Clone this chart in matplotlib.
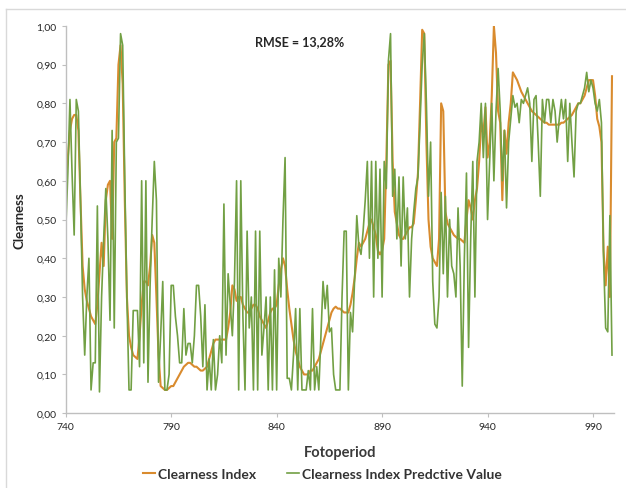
import matplotlib
matplotlib.use("Agg")
import matplotlib.pyplot as plt
from matplotlib.lines import Line2D
from matplotlib.ticker import FuncFormatter, FixedLocator, MultipleLocator
import numpy as np

plt.rcParams["font.family"] = ["Lato", "DejaVu Sans"]

# Fotoperiod 740..999, one value per step
fotoperiod = np.arange(740, 1000)
x_ticks = [740, 790, 840, 890, 940, 990]

clearness_index = [
    0.60, 0.66, 0.73, 0.76, 0.77, 0.77, 0.73, 0.55, 0.38, 0.32,
    0.29, 0.27, 0.25, 0.24, 0.23, 0.28, 0.36, 0.44, 0.38, 0.55,
    0.59, 0.60, 0.45, 0.70, 0.71, 0.90, 0.95, 0.85, 0.55, 0.30,
    0.20, 0.17, 0.15, 0.145, 0.14, 0.20, 0.28, 0.34, 0.34, 0.33,
    0.38, 0.46, 0.44, 0.30, 0.15, 0.07, 0.065, 0.06, 0.06, 0.065,
    0.07, 0.07, 0.08, 0.09, 0.10, 0.11, 0.12, 0.125, 0.13, 0.13,
    0.125, 0.12, 0.12, 0.115, 0.11, 0.11, 0.115, 0.12, 0.14, 0.16,
    0.18, 0.19, 0.19, 0.19, 0.19, 0.19, 0.19, 0.22, 0.26, 0.33,
    0.32, 0.29, 0.30, 0.30, 0.28, 0.27, 0.26, 0.26, 0.27, 0.28,
    0.28, 0.27, 0.25, 0.24, 0.23, 0.22, 0.24, 0.26, 0.27, 0.27,
    0.28, 0.33, 0.37, 0.40, 0.38, 0.32, 0.27, 0.23, 0.19, 0.16,
    0.14, 0.12, 0.11, 0.10, 0.10, 0.10, 0.11, 0.11, 0.12, 0.13,
    0.14, 0.16, 0.18, 0.20, 0.22, 0.24, 0.26, 0.27, 0.275, 0.27,
    0.27, 0.265, 0.26, 0.26, 0.26, 0.28, 0.31, 0.35, 0.40, 0.44,
    0.43, 0.44, 0.45, 0.47, 0.49, 0.50, 0.48, 0.46, 0.42, 0.41,
    0.42, 0.45, 0.65, 0.90, 0.91, 0.65, 0.52, 0.49, 0.46, 0.45,
    0.45, 0.46, 0.47, 0.48, 0.48, 0.49, 0.55, 0.62, 0.80, 0.99,
    0.98, 0.70, 0.50, 0.43, 0.40, 0.39, 0.38, 0.45, 0.80, 0.78,
    0.52, 0.49, 0.48, 0.47, 0.46, 0.455, 0.45, 0.45, 0.445, 0.44,
    0.50, 0.55, 0.53, 0.50, 0.55, 0.58, 0.65, 0.75, 0.72, 0.79,
    0.66, 0.70, 0.82, 1.00, 0.93, 0.78, 0.75, 0.55, 0.73, 0.67,
    0.75, 0.80, 0.88, 0.87, 0.86, 0.845, 0.83, 0.82, 0.81, 0.80,
    0.79, 0.78, 0.775, 0.77, 0.765, 0.76, 0.755, 0.75, 0.75, 0.745,
    0.745, 0.745, 0.745, 0.745, 0.745, 0.75, 0.75, 0.755, 0.76, 0.765,
    0.77, 0.78, 0.79, 0.80, 0.80, 0.81, 0.82, 0.84, 0.86, 0.86,
    0.86, 0.82, 0.76, 0.74, 0.70, 0.42, 0.33, 0.43, 0.30, 0.87,
]

predicted_value = [
    0.47, 0.62, 0.81, 0.62, 0.46, 0.81, 0.78, 0.55, 0.30, 0.15,
    0.30, 0.40, 0.06, 0.13, 0.13, 0.535, 0.055, 0.30, 0.45, 0.58,
    0.45, 0.24, 0.73, 0.22, 0.70, 0.71, 0.98, 0.95, 0.60, 0.30,
    0.06, 0.06, 0.265, 0.265, 0.265, 0.12, 0.60, 0.13, 0.60, 0.08,
    0.33, 0.50, 0.65, 0.55, 0.08, 0.20, 0.34, 0.06, 0.06, 0.10,
    0.33, 0.33, 0.25, 0.20, 0.13, 0.13, 0.27, 0.15, 0.18, 0.18,
    0.13, 0.20, 0.33, 0.33, 0.25, 0.12, 0.28, 0.06, 0.14, 0.06,
    0.19, 0.06, 0.10, 0.20, 0.13, 0.54, 0.15, 0.36, 0.28, 0.20,
    0.34, 0.60, 0.06, 0.60, 0.25, 0.06, 0.47, 0.22, 0.30, 0.06,
    0.47, 0.06, 0.47, 0.15, 0.22, 0.30, 0.06, 0.30, 0.06, 0.37,
    0.06, 0.40, 0.30, 0.50, 0.66, 0.09, 0.09, 0.06, 0.15, 0.27,
    0.06, 0.27, 0.06, 0.06, 0.06, 0.11, 0.06, 0.27, 0.06, 0.12,
    0.06, 0.20, 0.34, 0.27, 0.33, 0.21, 0.22, 0.10, 0.06, 0.06,
    0.06, 0.30, 0.47, 0.47, 0.06, 0.26, 0.21, 0.35, 0.51, 0.43,
    0.41, 0.47, 0.55, 0.65, 0.40, 0.65, 0.30, 0.65, 0.40, 0.63,
    0.30, 0.65, 0.58, 0.91, 0.98, 0.56, 0.63, 0.45, 0.61, 0.38,
    0.61, 0.45, 0.53, 0.30, 0.45, 0.52, 0.58, 0.61, 0.75, 0.90,
    0.98, 0.80, 0.56, 0.70, 0.34, 0.23, 0.22, 0.30, 0.57, 0.36,
    0.56, 0.30, 0.50, 0.38, 0.36, 0.30, 0.53, 0.38, 0.07, 0.40,
    0.62, 0.17, 0.45, 0.65, 0.30, 0.65, 0.70, 0.80, 0.66, 0.80,
    0.50, 0.65, 0.80, 0.60, 0.78, 0.89, 0.78, 0.60, 0.73, 0.53,
    0.70, 0.76, 0.82, 0.79, 0.80, 0.75, 0.81, 0.80, 0.82, 0.84,
    0.80, 0.65, 0.81, 0.82, 0.70, 0.56, 0.81, 0.75, 0.81, 0.81,
    0.75, 0.81, 0.78, 0.70, 0.76, 0.81, 0.76, 0.81, 0.65, 0.80,
    0.70, 0.61, 0.78, 0.80, 0.80, 0.82, 0.84, 0.88, 0.83, 0.86,
    0.84, 0.80, 0.78, 0.81, 0.75, 0.40, 0.22, 0.21, 0.51, 0.15,
]

series_labels = ["Clearness Index", "Clearness Index Predctive Value"]
rmse_text = "RMSE = 13,28%"

ORANGE = "#D98B2E"
GREEN = "#72A044"
AXIS_GREY = "#BFBFBF"
TEXT = "#262626"

fig = plt.figure(figsize=(6.26, 4.89), dpi=100)
ax = fig.add_axes([0.105, 0.153, 0.876, 0.792])

ax.plot(fotoperiod, clearness_index, color=ORANGE, lw=1.5, label=series_labels[0])
ax.plot(fotoperiod, predicted_value, color=GREEN, lw=1.2, label=series_labels[1])

ax.set_xlim(740, 1000)
ax.set_ylim(0, 1.0)
ax.xaxis.set_major_locator(FixedLocator(x_ticks))
ax.yaxis.set_major_locator(MultipleLocator(0.1))
ax.yaxis.set_major_formatter(FuncFormatter(lambda v, _: f"{v:.2f}".replace(".", ",")))

for side in ("top", "right"):
    ax.spines[side].set_visible(False)
for side in ("left", "bottom"):
    ax.spines[side].set_color(AXIS_GREY)
    ax.spines[side].set_linewidth(1.0)
ax.tick_params(axis="both", colors=AXIS_GREY, labelcolor=TEXT, labelsize=7.5,
               length=3, width=0.8)

ax.set_xlabel("Fotoperiod", fontsize=10.5, fontweight="bold", color="#3a3a3a", labelpad=10)
ax.set_ylabel("Clearness", fontsize=9.5, fontweight="bold", color=TEXT, labelpad=8)

ax.text(851, 0.962, rmse_text, fontsize=9, fontweight="bold", color=TEXT,
        ha="center", va="center")

fig.legend(loc="center", bbox_to_anchor=(0.515, 0.028), ncol=2, frameon=False,
           handlelength=0.9, handletextpad=0.2, columnspacing=2.2,
           prop={"weight": "bold", "size": 10})
for txt in fig.legends[0].get_texts():
    txt.set_color("#333333")

# chart-area border (left and top edges visible)
fig.add_artist(Line2D([6 / 626, 6 / 626], [0, 1 - 10 / 489], transform=fig.transFigure,
                      color="#D9D9D9", lw=1.0))
fig.add_artist(Line2D([6 / 626, 1], [1 - 10 / 489, 1 - 10 / 489], transform=fig.transFigure,
                      color="#D9D9D9", lw=1.0))

fig.savefig("out.png", dpi=100)
